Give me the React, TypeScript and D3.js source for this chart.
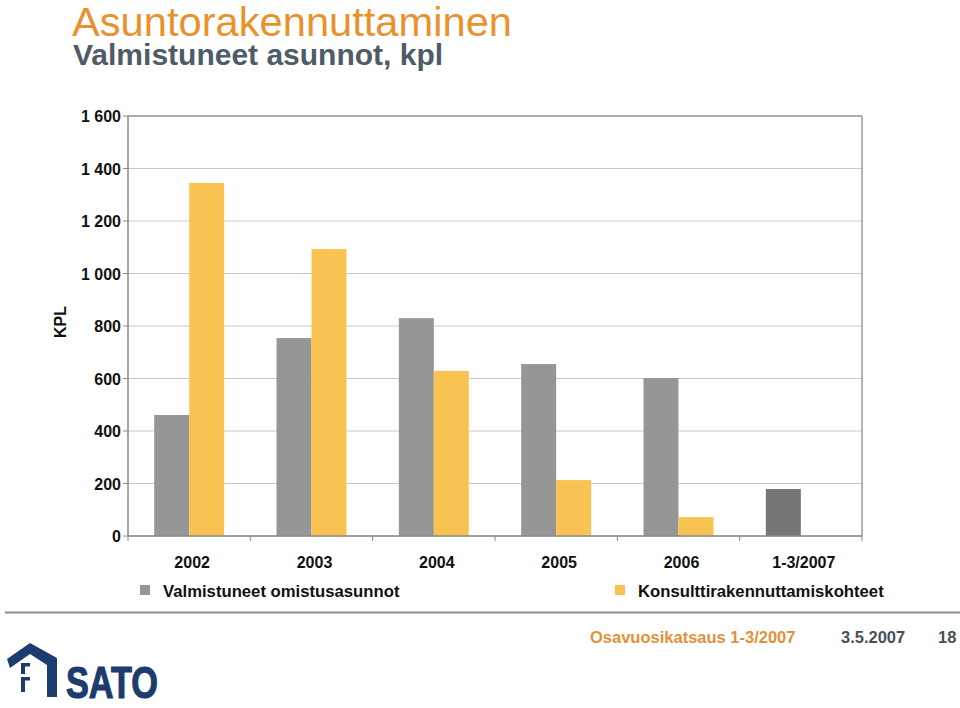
import React from "react";
import * as d3 from "d3";

const categories = ["2002", "2003", "2004", "2005", "2006", "1-3/2007"];
const seriesNames = ["Valmistuneet omistusasunnot", "Konsulttirakennuttamiskohteet"];
const ownValues = [461, 754, 830, 655, 602, 179];
const consultValues: (number | null)[] = [1345, 1093, 629, 213, 72, null];
const yTicks = [0, 200, 400, 600, 800, 1000, 1200, 1400, 1600];

const GRAY = "#969696";
const DARK = "#767676";
const YELLOW = "#F9C352";
const FONT = "'Liberation Sans', Arial, Helvetica, sans-serif";

export default function App() {
  const left = 128, right = 862, top = 116, bottom = 536;
  const x = d3.scaleBand<string>().domain(categories).range([left, right]);
  const y = d3.scaleLinear().domain([0, 1600]).range([bottom, top]);
  const barW = 35;
  const fmt = (v: number) => {
    const s = String(v);
    return s.length > 3 ? s.slice(0, s.length - 3) + " " + s.slice(-3) : s;
  };

  return (
    <svg width={960} height={708} style={{ position: "absolute", left: 0, top: 0, background: "#fff" }} fontFamily={FONT}>
      <rect x={0} y={0} width={960} height={708} fill="#fff" />
      {/* Titles */}
      <text x={72} y={36} fontSize={41} fill="#E8922E" textLength={440} lengthAdjust="spacingAndGlyphs">Asuntorakennuttaminen</text>
      <text x={73} y={65} fontSize={30} fontWeight="bold" fill="#4F5B67">Valmistuneet asunnot, kpl</text>

      {/* Gridlines */}
      {yTicks.map((t) => (
        <line key={"g" + t} x1={left} x2={right} y1={y(t)} y2={y(t)} stroke="#c8c8c8" strokeWidth={1} />
      ))}
      {/* frame */}
      <line x1={left} x2={right} y1={top} y2={top} stroke="#9a9a9a" strokeWidth={1.5} />
      <line x1={right} x2={right} y1={top} y2={bottom} stroke="#9a9a9a" strokeWidth={1.5} />

      {/* Bars */}
      {categories.map((c, i) => {
        const cx = (x(c) as number) + x.bandwidth() / 2;
        const own = ownValues[i];
        const cons = consultValues[i];
        return (
          <g key={c}>
            <rect x={cx - barW} y={y(own)} width={barW} height={y(0) - y(own)} fill={i === 5 ? DARK : GRAY} />
            {cons != null && (
              <rect x={cx} y={y(cons)} width={barW} height={y(0) - y(cons)} fill={YELLOW} />
            )}
          </g>
        );
      })}

      {/* Axes */}
      <line x1={left} x2={left} y1={top} y2={bottom} stroke="#8a8a8a" strokeWidth={1.5} />
      <line x1={left} x2={right} y1={bottom} y2={bottom} stroke="#8a8a8a" strokeWidth={1.5} />
      {yTicks.map((t) => (
        <g key={"t" + t}>
          <line x1={left - 5} x2={left} y1={y(t)} y2={y(t)} stroke="#8a8a8a" />
          <text x={121} y={y(t) + 6} fontSize={16} fontWeight="bold" textAnchor="end" fill="#111">{fmt(t)}</text>
        </g>
      ))}
      {categories.map((c, i) => (
        <line key={"xt" + i} x1={x(c) as number} x2={x(c) as number} y1={bottom} y2={bottom + 5} stroke="#8a8a8a" />
      ))}
      <line x1={right} x2={right} y1={bottom} y2={bottom + 5} stroke="#8a8a8a" />
      {categories.map((c) => (
        <text key={"xl" + c} x={(x(c) as number) + x.bandwidth() / 2 + 3} y={568} fontSize={16} fontWeight="bold" textAnchor="middle" fill="#111">{c}</text>
      ))}

      {/* Y label */}
      <text transform="translate(66,322) rotate(-90)" fontSize={16} fontWeight="bold" textAnchor="middle" fill="#111">KPL</text>

      {/* Legend */}
      <rect x={140} y={585} width={10} height={10} fill={GRAY} />
      <text x={163} y={597} fontSize={16.7} fontWeight="bold" fill="#111">{seriesNames[0]}</text>
      <rect x={615} y={585} width={10} height={10} fill={YELLOW} />
      <text x={638} y={597} fontSize={16.7} fontWeight="bold" fill="#111">{seriesNames[1]}</text>

      {/* Footer */}
      <line x1={5} x2={960} y1={612.5} y2={612.5} stroke="#8c8c8c" strokeWidth={2} />
      <text x={590} y={643} fontSize={16.5} fontWeight="bold" fill="#E0923A">Osavuosikatsaus 1-3/2007</text>
      <text x={841} y={643} fontSize={16.5} fontWeight="bold" fill="#4a4f55">3.5.2007</text>
      <text x={938} y={643} fontSize={16.5} fontWeight="bold" fill="#4a4f55">18</text>

      {/* Logo */}
      <g fill="#1C3B6E">
        <polygon points="7,659 30,643 57,658 57,697 47,697 47,665 30,654 10,668" />
        <polygon points="21,663 30,663 30,666.5 25,666.5 25,674 21,674" />
        <polygon points="21,677 30,677 30,680.5 25,680.5 25,692 21,692" />
        <text x={66} y={698} fontSize={44} fontWeight="bold" stroke="#1C3B6E" strokeWidth={1.2} textLength={92} lengthAdjust="spacingAndGlyphs">SATO</text>
      </g>
    </svg>
  );
}
